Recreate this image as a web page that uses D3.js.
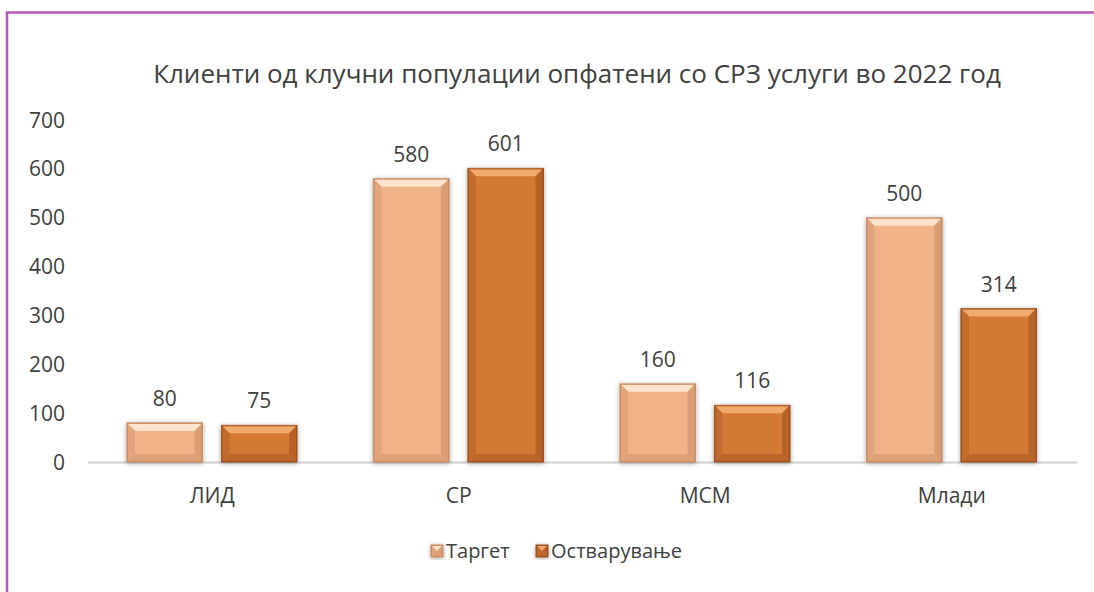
<!DOCTYPE html>
<html>
<head>
<meta charset="utf-8">
<script src="https://cdn.jsdelivr.net/npm/d3@7"></script>
<style>
	body { margin: 0; background: #fff; }
	svg text { font-family: "Open Sans", "Noto Sans", sans-serif; fill: #404040; }
</style>
</head>
<body>
<svg id="chart" width="1094" height="592"></svg>
<script>
// data
var categories = ["ЛИД", "СР", "МСМ", "Млади"];
var seriesNames = ["Таргет", "Остварување"];
var target = [80, 580, 160, 500];
var actual = [75, 601, 116, 314];
var yTicks = [0, 100, 200, 300, 400, 500, 600, 700];
var title = "Клиенти од клучни популации опфатени со СРЗ услуги во 2022 год";

var colors = ["#f0b488", "#d57a36"];
var light = ["#fde3cc", "#f0aa6c"];
var dark = ["#c98a63", "#9c5020"];

var svg = d3.select("#chart");

// frame
svg.append("path")
	.attr("d", "M7,592 L7,12.5 L1094,12.5")
	.attr("fill", "none")
	.attr("stroke", "#b459b0")
	.attr("stroke-width", 2.5);

var defs = svg.append("defs");
var f = defs.append("filter").attr("id", "shadow")
	.attr("x", "-20%").attr("y", "-20%").attr("width", "140%").attr("height", "140%");
f.append("feDropShadow")
	.attr("dx", 0).attr("dy", 1).attr("stdDeviation", 2.5)
	.attr("flood-color", "#000").attr("flood-opacity", 0.35);

var x0 = d3.scaleBand().domain(categories).range([89, 1075]).paddingInner(0).paddingOuter(0);
var x1 = d3.scaleBand().domain([0, 1]).range([38, 208]).paddingInner(0.2);
var y = d3.scaleLinear().domain([0, 700]).range([462, 120]);

// title
svg.append("text")
	.attr("x", 577).attr("y", 83)
	.attr("text-anchor", "middle")
	.style("font-size", "26px")
	.text(title);

// y ticks
svg.selectAll(".ytick")
	.data(yTicks)
	.enter()
	.append("text")
	.attr("class", "ytick")
	.attr("x", 65)
	.attr("y", function(d){ return y(d) + 7.5; })
	.attr("text-anchor", "end")
	.style("font-size", "21px")
	.text(function(d){ return d; });

// baseline
svg.append("line")
	.attr("x1", 88).attr("x2", 1077)
	.attr("y1", y(0) + 0.5).attr("y2", y(0) + 0.5)
	.attr("stroke", "#d0d0d0").attr("stroke-width", 2);

// category labels
svg.selectAll(".xlab")
	.data(categories)
	.enter()
	.append("text")
	.attr("class", "xlab")
	.attr("x", function(d){ return x0(d) + x0.bandwidth()/2; })
	.attr("y", 503)
	.attr("text-anchor", "middle")
	.style("font-size", "21px")
	.text(function(d){ return d; });

var rows = [];
categories.forEach(function(c, i){
	rows.push({cat: c, s: 0, v: target[i]});
	rows.push({cat: c, s: 1, v: actual[i]});
});

function bevelBar(g, bx, by, bw, bh, s){
	var b = Math.min(8, bh/2, bw/2);
	g.append("rect")
		.attr("x", bx).attr("y", by).attr("width", bw).attr("height", bh)
		.attr("fill", colors[s])
		.attr("stroke", dark[s]).attr("stroke-width", 1)
		.attr("filter", "url(#shadow)");
	// top highlight
	g.append("path")
		.attr("d", "M" + bx + "," + by + " L" + (bx + bw) + "," + by + " L" + (bx + bw - b) + "," + (by + b) + " L" + (bx + b) + "," + (by + b) + "Z")
		.attr("fill", light[s]);
	// left side
	g.append("path")
		.attr("d", "M" + bx + "," + by + " L" + (bx + b) + "," + (by + b) + " L" + (bx + b) + "," + (by + bh - b) + " L" + bx + "," + (by + bh) + "Z")
		.attr("fill", d3.interpolateRgb(colors[s], dark[s])(0.35));
	// right side
	g.append("path")
		.attr("d", "M" + (bx + bw) + "," + by + " L" + (bx + bw - b) + "," + (by + b) + " L" + (bx + bw - b) + "," + (by + bh - b) + " L" + (bx + bw) + "," + (by + bh) + "Z")
		.attr("fill", d3.interpolateRgb(colors[s], dark[s])(0.55));
	// bottom
	g.append("path")
		.attr("d", "M" + bx + "," + (by + bh) + " L" + (bx + b) + "," + (by + bh - b) + " L" + (bx + bw - b) + "," + (by + bh - b) + " L" + (bx + bw) + "," + (by + bh) + "Z")
		.attr("fill", d3.interpolateRgb(colors[s], dark[s])(0.45));
	g.append("rect")
		.attr("x", bx + 0.5).attr("y", by + 0.5).attr("width", bw - 1).attr("height", bh - 1)
		.attr("fill", "none")
		.attr("stroke", dark[s]).attr("stroke-width", 1);
}

var bars = svg.append("g");
rows.forEach(function(d){
	var bx = x0(d.cat) + x1(d.s);
	var by = y(d.v);
	bevelBar(bars.append("g"), bx, by, x1.bandwidth(), y(0) - by, d.s);
});

// value labels
svg.selectAll(".vlab")
	.data(rows)
	.enter()
	.append("text")
	.attr("class", "vlab")
	.attr("x", function(d){ return x0(d.cat) + x1(d.s) + x1.bandwidth()/2; })
	.attr("y", function(d){ return y(d.v) - 17; })
	.attr("text-anchor", "middle")
	.style("font-size", "21px")
	.text(function(d){ return d.v; });

// legend
var leg = svg.append("g");
var legX = [431, 536];
seriesNames.forEach(function(n, i){
	bevelBar(leg.append("g"), legX[i], 545, 12, 12, i);
	leg.append("text")
		.attr("x", legX[i] + 15).attr("y", 558)
		.style("font-size", "20px")
		.text(n);
});
</script>
</body>
</html>
